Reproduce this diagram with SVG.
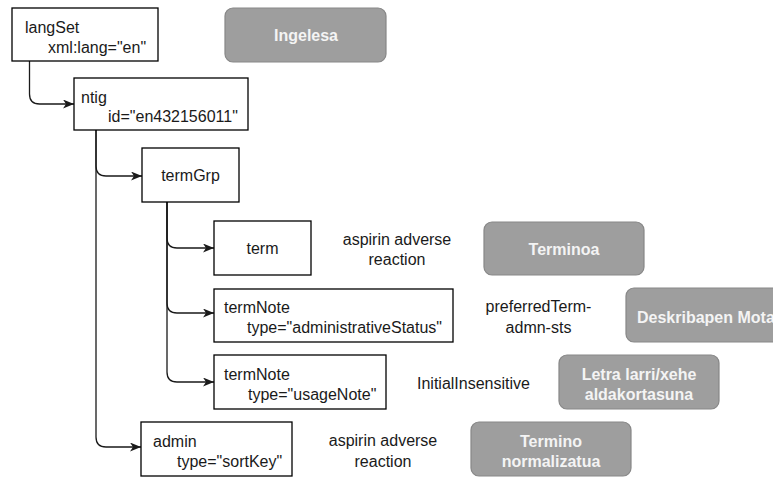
<svg xmlns="http://www.w3.org/2000/svg" width="773" height="477" viewBox="0 0 773 477">
  <style>
    .box { fill: #ffffff; stroke: #000000; stroke-width: 1.3; }
    .tag { fill: #9e9e9e; stroke: #878787; stroke-width: 1.2; }
    .t { font-family: "Liberation Sans", Arial, sans-serif; font-size: 16px; fill: #1a1a1a; }
    .c { text-anchor: middle; }
    .w { font-family: "Liberation Sans", Arial, sans-serif; font-size: 16px; font-weight: bold; fill: #f4f4f4; text-anchor: middle; }
    .edge { fill: none; stroke: #1a1a1a; stroke-width: 1.3; marker-end: url(#arrow); }
  </style>
  <defs>
    <marker id="arrow" markerUnits="userSpaceOnUse" markerWidth="12" markerHeight="10" refX="11" refY="4.5" orient="auto">
      <path d="M0,0 L11,4.5 L0,9 L3,4.5 Z" fill="#1a1a1a"/>
    </marker>
  </defs>

  <rect width="773" height="477" fill="#ffffff"/>

  <!-- tree connectors -->
  <g id="connectors">
    <path class="edge" d="M29.5,61 L29.5,94 Q29.5,104 39.5,104 L74,104"/>
    <path class="edge" d="M96,130 L96,166 Q96,176 106,176 L142,176"/>
    <path class="edge" d="M96,130 L96,437 Q96,447 106,447 L141,447"/>
    <path class="edge" d="M167,202 L167,238 Q167,248 177,248 L214,248"/>
    <path class="edge" d="M167,202 L167,303 Q167,313 177,313 L214,313"/>
    <path class="edge" d="M167,202 L167,372 Q167,382 177,382 L214,382"/>
  </g>

  <!-- element boxes -->
  <g id="langSet">
    <rect class="box" x="12" y="8" width="146" height="53"/>
    <text class="t" x="25" y="33">langSet</text>
    <text class="t" x="48" y="53">xml:lang="en"</text>
  </g>
  <g id="ntig">
    <rect class="box" x="74" y="78" width="174" height="52"/>
    <text class="t" x="81" y="103">ntig</text>
    <text class="t" x="108" y="122">id="en432156011"</text>
  </g>
  <g id="termGrp">
    <rect class="box" x="142" y="148" width="97" height="54"/>
    <text class="t c" x="190.5" y="181">termGrp</text>
  </g>
  <g id="term">
    <rect class="box" x="214" y="221" width="97" height="54"/>
    <text class="t c" x="262.5" y="254">term</text>
  </g>
  <g id="termNote-status">
    <rect class="box" x="214" y="289" width="239" height="53"/>
    <text class="t" x="224" y="313">termNote</text>
    <text class="t" x="247" y="333">type="administrativeStatus"</text>
  </g>
  <g id="termNote-usage">
    <rect class="box" x="214" y="355" width="172" height="54"/>
    <text class="t" x="224" y="380">termNote</text>
    <text class="t" x="248" y="400">type="usageNote"</text>
  </g>
  <g id="admin">
    <rect class="box" x="141" y="422" width="151" height="54"/>
    <text class="t" x="153" y="447">admin</text>
    <text class="t" x="177" y="467">type="sortKey"</text>
  </g>

  <!-- values -->
  <g id="value-term">
    <text class="t c" x="397" y="245">aspirin adverse</text>
    <text class="t c" x="397" y="265">reaction</text>
  </g>
  <g id="value-status">
    <text class="t c" x="538.5" y="312">preferredTerm-</text>
    <text class="t c" x="538.5" y="333">admn-sts</text>
  </g>
  <g id="value-usage">
    <text class="t c" x="473.5" y="389">InitialInsensitive</text>
  </g>
  <g id="value-sortkey">
    <text class="t c" x="383" y="446">aspirin adverse</text>
    <text class="t c" x="383" y="467">reaction</text>
  </g>

  <!-- gray captions -->
  <g id="cap-ingelesa">
    <rect class="tag" x="225" y="8" width="161" height="54" rx="8"/>
    <text class="w" x="306" y="41">Ingelesa</text>
  </g>
  <g id="cap-terminoa">
    <rect class="tag" x="484" y="222" width="160" height="53" rx="8"/>
    <text class="w" x="564" y="255">Terminoa</text>
  </g>
  <g id="cap-deskribapen">
    <rect class="tag" x="626" y="288" width="170" height="54" rx="8"/>
    <text class="w" x="637" y="323" style="text-anchor:start">Deskribapen Mota</text>
  </g>
  <g id="cap-letra">
    <rect class="tag" x="559" y="355" width="160" height="54" rx="8"/>
    <text class="w" x="639" y="380">Letra larri/xehe</text>
    <text class="w" x="639" y="400">aldakortasuna</text>
  </g>
  <g id="cap-normalizatua">
    <rect class="tag" x="471" y="422" width="160" height="54" rx="8"/>
    <text class="w" x="551" y="447">Termino</text>
    <text class="w" x="551" y="467">normalizatua</text>
  </g>
</svg>
